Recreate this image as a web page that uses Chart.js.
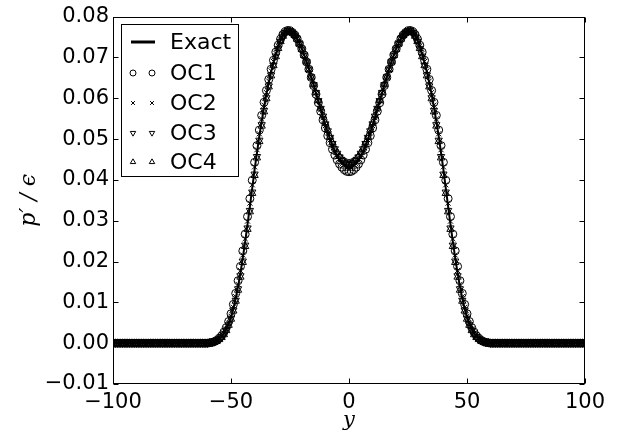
<!DOCTYPE html>
<html>
<head>
<meta charset="utf-8">
<script src="https://cdn.jsdelivr.net/npm/chart.js@4"></script>
<style>
  html, body { margin: 0; padding: 0; background: #fff; }
  #plot { display: block; }
</style>
</head>
<body>
<canvas id="plot" width="618" height="435"></canvas>
<script>
// --- Data ---
const yGrid = [
  -100,-99,-98,-97,-96,-95,-94,-93,-92,-91,
  -90,-89,-88,-87,-86,-85,-84,-83,-82,-81,
  -80,-79,-78,-77,-76,-75,-74,-73,-72,-71,
  -70,-69,-68,-67,-66,-65,-64,-63,-62,-61,
  -60,-59,-58,-57,-56,-55,-54,-53,-52,-51,
  -50,-49,-48,-47,-46,-45,-44,-43,-42,-41,
  -40,-39,-38,-37,-36,-35,-34,-33,-32,-31,
  -30,-29,-28,-27,-26,-25,-24,-23,-22,-21,
  -20,-19,-18,-17,-16,-15,-14,-13,-12,-11,
  -10,-9,-8,-7,-6,-5,-4,-3,-2,-1,
  0,
  1,2,3,4,5,6,7,8,9,10,
  11,12,13,14,15,16,17,18,19,20,
  21,22,23,24,25,26,27,28,29,30,
  31,32,33,34,35,36,37,38,39,40,
  41,42,43,44,45,46,47,48,49,50,
  51,52,53,54,55,56,57,58,59,60,
  61,62,63,64,65,66,67,68,69,70,
  71,72,73,74,75,76,77,78,79,80,
  81,82,83,84,85,86,87,88,89,90,
  91,92,93,94,95,96,97,98,99,100
];

const exactVals = [
  0,0,0,0,0,0,0,0,0,0,
  0,0,0,0,0,0,0,0,0,0,
  0,0,0,0,0,0,0,0,0,0,
  0,0,0,0,0,0,0,0,0,0,
  0,.0001,.0002,.0004,.0006,.0010,.0016,.0024,.0034,.0047,
  .0064,.0085,.0110,.0139,.0172,.0209,.0249,.0291,.0335,.0380,
  .0425,.0467,.0507,.0544,.0578,.0610,.0638,.0664,.0687,.0708,
  .0726,.0742,.0754,.0762,.0766,.0765,.0761,.0755,.0746,.0734,
  .0721,.0706,.0689,.0671,.0652,.0633,.0613,.0593,.0573,.0553,
  .0534,.0516,.0500,.0485,.0471,.0460,.0450,.0442,.0437,.0433,
  .0432,
  .0433,.0437,.0442,.0450,.0460,.0471,.0485,.0500,.0516,.0534,
  .0553,.0573,.0593,.0613,.0633,.0652,.0671,.0689,.0706,.0721,
  .0734,.0746,.0755,.0761,.0765,.0766,.0762,.0754,.0742,.0726,
  .0708,.0687,.0664,.0638,.0610,.0578,.0544,.0507,.0467,.0425,
  .0380,.0335,.0291,.0249,.0209,.0172,.0139,.0110,.0085,.0064,
  .0047,.0034,.0024,.0016,.0010,.0006,.0004,.0002,.0001,0,
  0,0,0,0,0,0,0,0,0,0,
  0,0,0,0,0,0,0,0,0,0,
  0,0,0,0,0,0,0,0,0,0,
  0,0,0,0,0,0,0,0,0,0
];

const oc1Vals = [
  0,0,0,0,0,0,0,0,0,0,
  0,0,0,0,0,0,0,0,0,0,
  0,0,0,0,0,0,0,0,0,0,
  0,0,0,0,0,0,0,0,0,0,
  0,.0001,.0002,.0004,.0007,.0012,.0018,.0027,.0038,.0053,
  .0072,.0095,.0122,.0153,.0188,.0226,.0267,.0310,.0354,.0399,
  .0443,.0484,.0522,.0558,.0590,.0619,.0646,.0671,.0693,.0713,
  .0730,.0745,.0756,.0763,.0766,.0765,.0761,.0755,.0746,.0734,
  .0721,.0706,.0689,.0671,.0651,.0631,.0610,.0589,.0568,.0547,
  .0527,.0508,.0491,.0475,.0461,.0449,.0439,.0431,.0425,.0421,
  .0420,
  .0421,.0425,.0431,.0439,.0449,.0461,.0475,.0491,.0508,.0527,
  .0547,.0568,.0589,.0610,.0631,.0651,.0671,.0689,.0706,.0721,
  .0734,.0746,.0755,.0761,.0765,.0766,.0763,.0756,.0745,.0730,
  .0713,.0693,.0671,.0646,.0619,.0590,.0558,.0522,.0484,.0443,
  .0399,.0354,.0310,.0267,.0226,.0188,.0153,.0122,.0095,.0072,
  .0053,.0038,.0027,.0018,.0012,.0007,.0004,.0002,.0001,0,
  0,0,0,0,0,0,0,0,0,0,
  0,0,0,0,0,0,0,0,0,0,
  0,0,0,0,0,0,0,0,0,0,
  0,0,0,0,0,0,0,0,0,0
];

const oc2Vals = [
  0,0,0,0,0,0,0,0,0,0,
  0,0,0,0,0,0,0,0,0,0,
  0,0,0,0,0,0,0,0,0,0,
  0,0,0,0,0,0,0,0,0,0,
  0,.0001,.0002,.0004,.0007,.0011,.0017,.0025,.0035,.0049,
  .0066,.0088,.0114,.0144,.0178,.0216,.0256,.0299,.0343,.0388,
  .0432,.0474,.0513,.0549,.0583,.0614,.0642,.0667,.0690,.0710,
  .0728,.0743,.0755,.0762,.0766,.0765,.0761,.0755,.0746,.0734,
  .0721,.0706,.0689,.0671,.0652,.0633,.0613,.0593,.0572,.0552,
  .0533,.0515,.0498,.0483,.0469,.0457,.0447,.0439,.0433,.0429,
  .0428,
  .0429,.0433,.0439,.0447,.0457,.0469,.0483,.0498,.0515,.0533,
  .0552,.0572,.0593,.0613,.0633,.0652,.0671,.0689,.0706,.0721,
  .0734,.0746,.0755,.0761,.0765,.0766,.0762,.0755,.0743,.0728,
  .0710,.0690,.0667,.0642,.0614,.0583,.0549,.0513,.0474,.0432,
  .0388,.0343,.0299,.0256,.0216,.0178,.0144,.0114,.0088,.0066,
  .0049,.0035,.0025,.0017,.0011,.0007,.0004,.0002,.0001,0,
  0,0,0,0,0,0,0,0,0,0,
  0,0,0,0,0,0,0,0,0,0,
  0,0,0,0,0,0,0,0,0,0,
  0,0,0,0,0,0,0,0,0,0
];

const oc3Vals = [
  0,0,0,0,0,0,0,0,0,0,
  0,0,0,0,0,0,0,0,0,0,
  0,0,0,0,0,0,0,0,0,0,
  0,0,0,0,0,0,0,0,0,0,
  0,.0001,.0002,.0003,.0006,.0009,.0015,.0022,.0032,.0045,
  .0061,.0081,.0105,.0133,.0165,.0201,.0240,.0282,.0325,.0370,
  .0414,.0457,.0497,.0535,.0570,.0601,.0630,.0657,.0681,.0703,
  .0722,.0739,.0752,.0761,.0765,.0764,.0760,.0754,.0745,.0733,
  .0720,.0705,.0689,.0671,.0652,.0633,.0614,.0594,.0575,.0556,
  .0537,.0520,.0504,.0489,.0476,.0465,.0456,.0448,.0443,.0439,
  .0438,
  .0439,.0443,.0448,.0456,.0465,.0476,.0489,.0504,.0520,.0537,
  .0556,.0575,.0594,.0614,.0633,.0652,.0671,.0689,.0705,.0720,
  .0733,.0745,.0754,.0760,.0764,.0765,.0761,.0752,.0739,.0722,
  .0703,.0681,.0657,.0630,.0601,.0570,.0535,.0497,.0457,.0414,
  .0370,.0325,.0282,.0240,.0201,.0165,.0133,.0105,.0081,.0061,
  .0045,.0032,.0022,.0015,.0009,.0006,.0003,.0002,.0001,0,
  0,0,0,0,0,0,0,0,0,0,
  0,0,0,0,0,0,0,0,0,0,
  0,0,0,0,0,0,0,0,0,0,
  0,0,0,0,0,0,0,0,0,0
];

const oc4Vals = [
  0,0,0,0,0,0,0,0,0,0,
  0,0,0,0,0,0,0,0,0,0,
  0,0,0,0,0,0,0,0,0,0,
  0,0,0,0,0,0,0,0,0,0,
  0,.0001,.0002,.0003,.0005,.0009,.0014,.0021,.0031,.0044,
  .0059,.0079,.0103,.0130,.0162,.0198,.0237,.0279,.0322,.0367,
  .0411,.0454,.0494,.0532,.0567,.0599,.0628,.0655,.0680,.0702,
  .0722,.0739,.0752,.0761,.0765,.0764,.0760,.0754,.0745,.0733,
  .0720,.0705,.0689,.0671,.0652,.0633,.0614,.0595,.0576,.0557,
  .0539,.0522,.0506,.0491,.0478,.0467,.0458,.0451,.0446,.0442,
  .0441,
  .0442,.0446,.0451,.0458,.0467,.0478,.0491,.0506,.0522,.0539,
  .0557,.0576,.0595,.0614,.0633,.0652,.0671,.0689,.0705,.0720,
  .0733,.0745,.0754,.0760,.0764,.0765,.0761,.0752,.0739,.0722,
  .0702,.0680,.0655,.0628,.0599,.0567,.0532,.0494,.0454,.0411,
  .0367,.0322,.0279,.0237,.0198,.0162,.0130,.0103,.0079,.0059,
  .0044,.0031,.0021,.0014,.0009,.0005,.0003,.0002,.0001,0,
  0,0,0,0,0,0,0,0,0,0,
  0,0,0,0,0,0,0,0,0,0,
  0,0,0,0,0,0,0,0,0,0,
  0,0,0,0,0,0,0,0,0,0
];

const seriesNames = ['Exact', 'OC1', 'OC2', 'OC3', 'OC4'];
const xTicks = [-100, -50, 0, 50, 100];
const yTicks = [-0.01, 0, 0.01, 0.02, 0.03, 0.04, 0.05, 0.06, 0.07, 0.08];

// --- Styles ---
const FONT = "'DejaVu Sans', sans-serif";
const MINUS = '\u2212';
const markerStyles = [
  null,
  { pointStyle: 'circle', rotation: 0, radius: 4 },
  { pointStyle: 'crossRot', rotation: 0, radius: 3.6 },
  { pointStyle: 'triangle', rotation: 180, radius: 4.2 },
  { pointStyle: 'triangle', rotation: 0, radius: 4.2 }
];

function toPoints(vals) {
  return vals.map((v, i) => ({ x: yGrid[i], y: v }));
}

function fmt(v, digits) {
  const s = Math.abs(v).toFixed(digits);
  return v < -1e-9 ? MINUS + s : s;
}

const allVals = [exactVals, oc1Vals, oc2Vals, oc3Vals, oc4Vals];

const datasets = allVals.map((vals, i) => {
  if (i === 0) {
    return {
      label: seriesNames[i], data: toPoints(vals), showLine: true,
      borderColor: '#000', borderWidth: 2, pointRadius: 0, order: 5, clip: 0
    };
  }
  const m = markerStyles[i];
  return {
    label: seriesNames[i], data: toPoints(vals), showLine: false,
    pointStyle: m.pointStyle, pointRotation: m.rotation, pointRadius: m.radius,
    borderColor: '#000', backgroundColor: 'rgba(0,0,0,0)', pointBorderWidth: 1,
    order: 5 - i, clip: 0
  };
});

// --- Frame, inward ticks and legend (matplotlib look) ---
const framePlugin = {
  id: 'frame',
  afterDraw(chart) {
    const { ctx, chartArea: ca, scales } = chart;
    ctx.save();
    ctx.strokeStyle = '#000';
    ctx.lineWidth = 1;
    const L = Math.round(ca.left) + 0.5, R = Math.round(ca.right) - 0.5;
    const T = Math.round(ca.top) + 0.5, B = Math.round(ca.bottom) - 0.5;
    ctx.strokeRect(L, T, R - L, B - T);
    const tl = 5;
    ctx.beginPath();
    xTicks.forEach(v => {
      const px = Math.round(scales.x.getPixelForValue(v)) + 0.5;
      ctx.moveTo(px, B); ctx.lineTo(px, B - tl);
      ctx.moveTo(px, T); ctx.lineTo(px, T + tl);
    });
    yTicks.forEach(v => {
      const py = Math.round(scales.y.getPixelForValue(v)) + 0.5;
      ctx.moveTo(L, py); ctx.lineTo(L + tl, py);
      ctx.moveTo(R, py); ctx.lineTo(R - tl, py);
    });
    ctx.stroke();

    // legend box
    const bx = 121.5, by = 24.5, bw = 117, bh = 152;
    ctx.fillStyle = '#fff';
    ctx.fillRect(bx, by, bw, bh);
    ctx.strokeRect(bx, by, bw, bh);
    const rowY = [42, 73, 103, 133, 162];
    ctx.font = '22px ' + FONT;
    ctx.textBaseline = 'middle';
    ctx.textAlign = 'left';
    seriesNames.forEach((name, i) => {
      const y = rowY[i];
      if (i === 0) {
        ctx.lineWidth = 3;
        ctx.beginPath();
        ctx.moveTo(131, y); ctx.lineTo(155, y);
        ctx.stroke();
        ctx.lineWidth = 1;
      } else {
        const m = markerStyles[i];
        ctx.fillStyle = 'rgba(0,0,0,0)';
        [133, 152].forEach(x => {
          Chart.helpers.drawPoint(ctx, {
            pointStyle: m.pointStyle, rotation: m.rotation,
            radius: m.radius * 0.75, borderWidth: 1
          }, x, y);
        });
      }
      ctx.fillStyle = '#000';
      ctx.fillText(name, 170, y + 1);
    });
    ctx.restore();
  }
};

new Chart(document.getElementById('plot'), {
  type: 'scatter',
  data: { datasets },
  options: {
    responsive: false,
    animation: false,
    devicePixelRatio: 1,
    layout: { padding: { top: 15, right: 33, left: 0, bottom: 0 } },
    plugins: { legend: { display: false }, tooltip: { enabled: false } },
    scales: {
      x: {
        type: 'linear', min: -100, max: 100,
        afterBuildTicks: s => { s.ticks = xTicks.map(v => ({ value: v })); },
        afterFit: s => { s.height = 51; },
        grid: { display: false, drawTicks: false },
        border: { display: false },
        ticks: {
          color: '#000', padding: 6, maxRotation: 0,
          font: { family: FONT, size: 21 },
          callback: v => fmt(v, 0)
        },
        title: {
          display: true, text: 'y', color: '#000',
          font: { family: "'DejaVu Serif', serif", size: 21, style: 'italic' },
          padding: { top: 0, bottom: 2 }
        }
      },
      y: {
        type: 'linear', min: -0.01, max: 0.08,
        afterBuildTicks: s => { s.ticks = yTicks.map(v => ({ value: v })); },
        afterFit: s => { s.width = 113; },
        grid: { display: false, drawTicks: false },
        border: { display: false },
        ticks: {
          color: '#000', padding: 4,
          font: { family: FONT, size: 21 },
          callback: v => fmt(v, 2)
        },
        title: {
          display: true, text: 'p\u2032 / \u03F5', color: '#000',
          font: { family: "'DejaVu Serif', serif", size: 22, style: 'italic' },
          padding: { top: 16, bottom: 0 }
        }
      }
    }
  },
  plugins: [framePlugin]
});
</script>
</body>
</html>
